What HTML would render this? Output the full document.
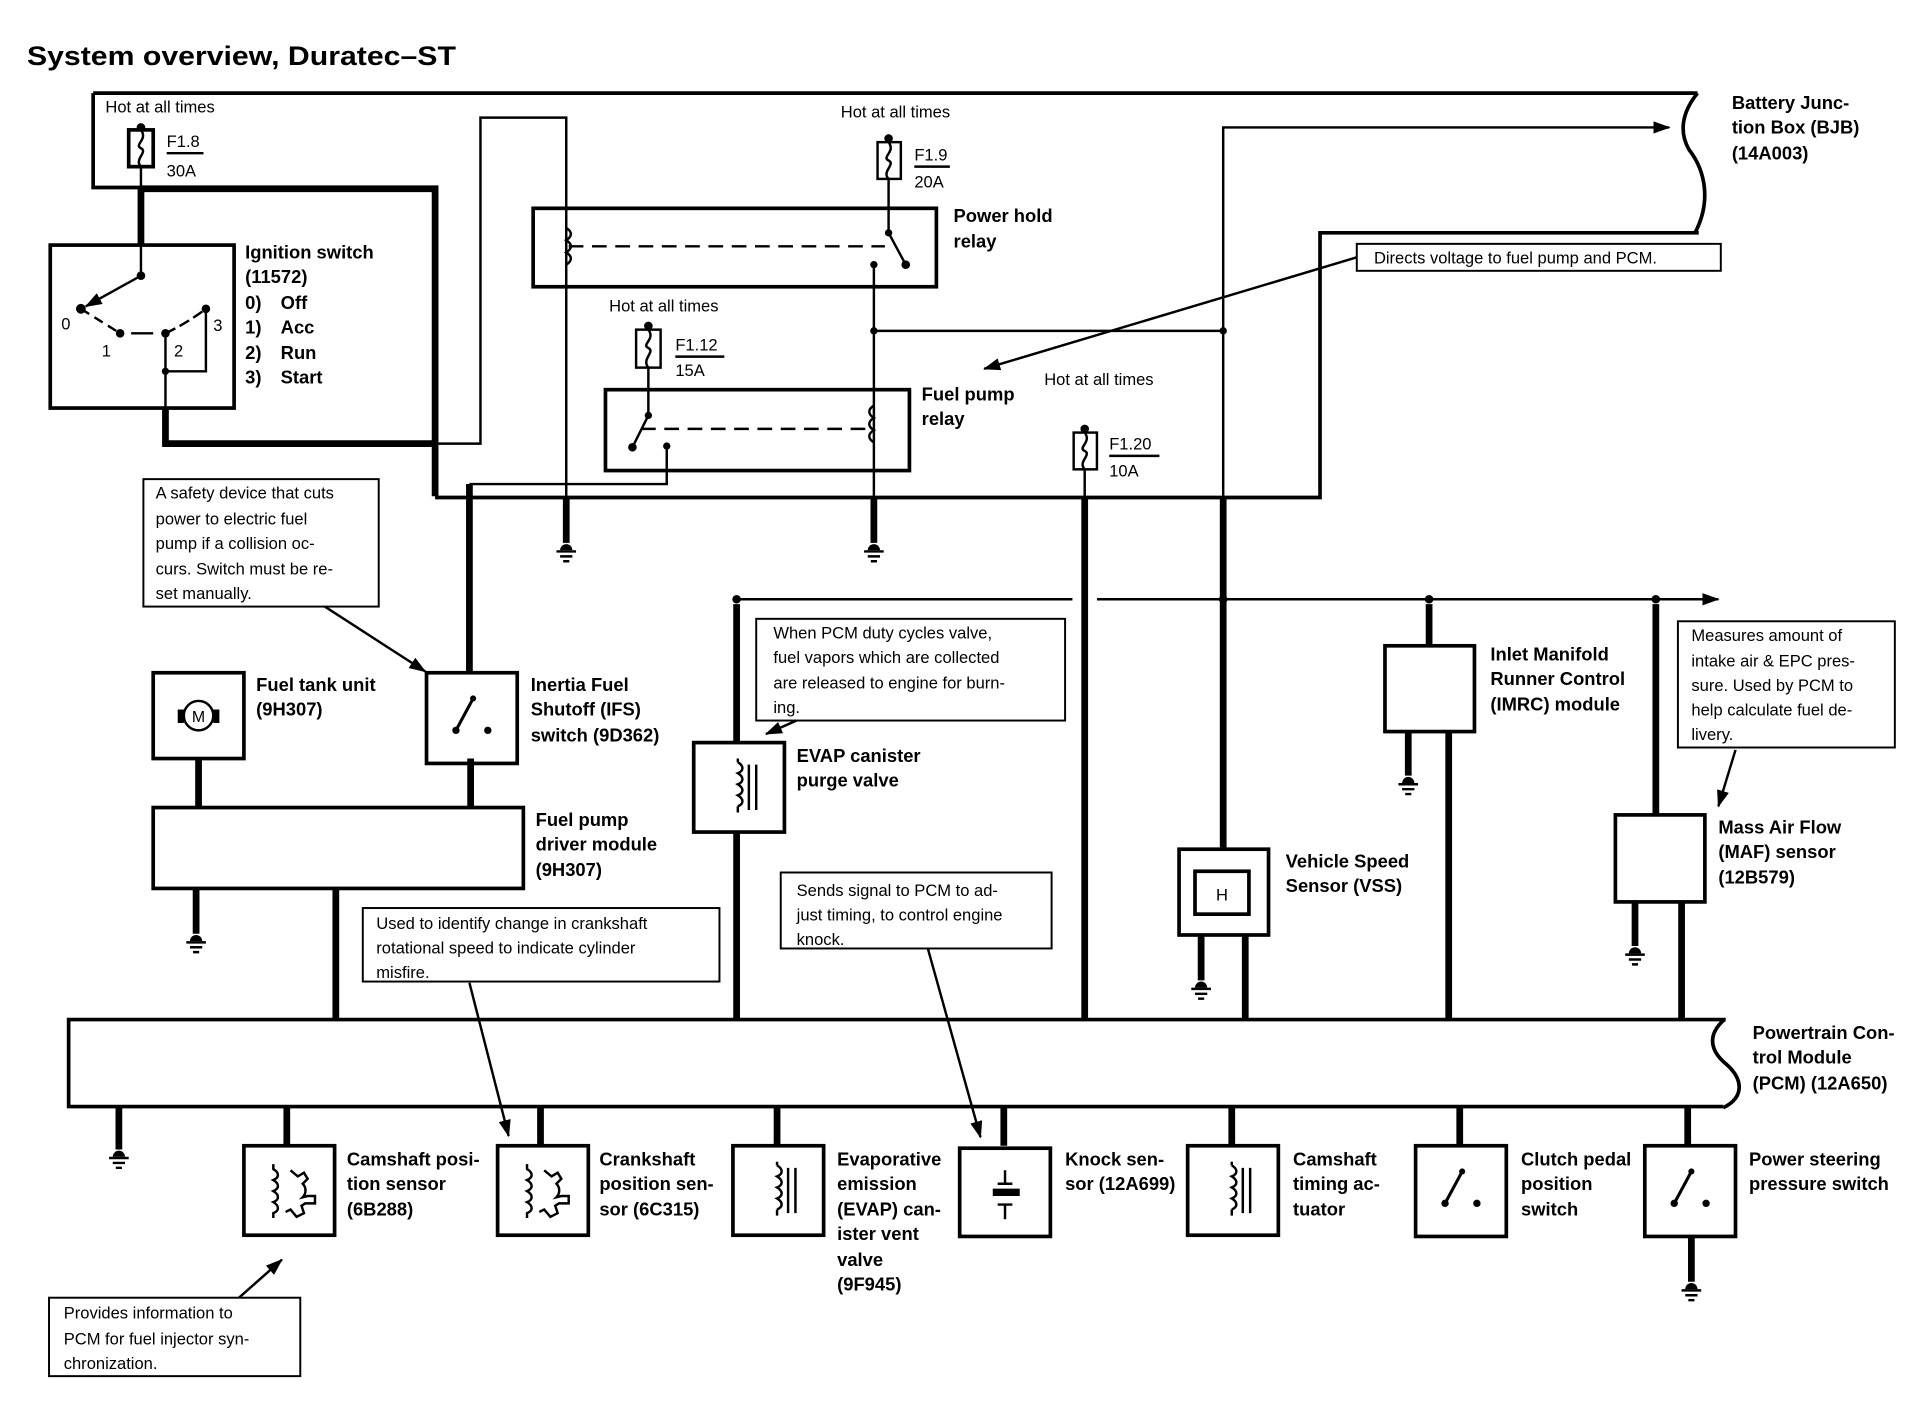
<!DOCTYPE html>
<html><head><meta charset="utf-8">
<style>
html,body{margin:0;padding:0;background:#fff;}
svg{display:block;}
text{font-family:"Liberation Sans",Arial,sans-serif;fill:#000;}
.b{font-weight:bold;font-size:15px;}
.r{font-size:13.5px;}
.t{stroke:#000;stroke-width:2;fill:none;}
.m{stroke:#000;stroke-width:3;fill:none;}
.k{stroke:#000;stroke-width:5.5;fill:none;}
.bx{stroke:#000;stroke-width:3;fill:#fff;}
.cb{stroke:#000;stroke-width:1.6;fill:#fff;}
</style></head>
<body>
<svg width="1912" height="1408" viewBox="0 0 1560 1149" preserveAspectRatio="none" xmlns="http://www.w3.org/2000/svg">
<defs>
<marker id="ar" markerWidth="14" markerHeight="10" refX="13" refY="5" orient="auto" markerUnits="userSpaceOnUse">
<path d="M0,0 L14,5 L0,10 Z" fill="#000"/></marker>
<g id="gnd"><path d="M-5,5 A5,5 0 0 1 5,5 Z" fill="#000"/><path d="M-8,6H8M-5,10H5M-2.5,14H2.5" stroke="#000" stroke-width="2"/></g>
<g id="sw"><rect x="0" y="0" width="74" height="74" class="bx"/><path d="M24,47 L38,21" stroke="#000" stroke-width="2.5"/><circle cx="24" cy="47" r="3"/><circle cx="38" cy="21" r="2.5"/><circle cx="50" cy="47" r="3"/></g>
<g id="evap"><rect x="0" y="0" width="74" height="73" class="bx"/><path d="M36,16 c5,3 5,7 0,9 c5,3 5,7 0,9 c5,3 5,7 0,9 c5,3 5,7 0,9 M36,16v-3 M36,52v5" class="t" stroke-width="1.5"/><path d="M45,18V55 M51,18V55" stroke="#000" stroke-width="2"/></g>
<g id="cam"><rect x="0" y="0" width="74" height="73" class="bx"/><path d="M24,15 v4 c5,3 5,7 0,9 c5,3 5,7 0,9 c5,3 5,7 0,9 c5,3 5,7 0,9 v4" class="t" stroke-width="1.6"/><path d="M38,20 l6,5 l5,-3 l3,5 l-4,4 c3,3 3,8 0,11 l4,-1 l6,0 v6 l-8,0 l-3,2 l2,6 l-6,3 l-5,-6 l-4,2" class="t" stroke-width="1.6"/></g>
</defs>

<text x="22" y="53" style="font-weight:bold;font-size:22px" textLength="350" lengthAdjust="spacingAndGlyphs">System overview, Duratec–ST</text>

<!-- BJB outline -->
<path d="M76,76 H1385" class="m"/>
<path d="M76,76 V153 H115" class="m"/>
<path d="M115,154 H355 V405" class="k" stroke-width="4.5"/>
<path d="M355,406 H1077 V190 H1386" class="m"/>
<path d="M1385,76 C1372,92 1370,108 1378,122 C1392,140 1396,165 1383,190" class="m"/>
<text x="1413" y="89" class="b">Battery Junc-</text>
<text x="1413" y="109" class="b">tion Box (BJB)</text>
<text x="1413" y="130" class="b">(14A003)</text>

<!-- F1.8 -->
<text x="86" y="92" class="r">Hot at all times</text>
<circle cx="115" cy="104" r="3.5"/>
<rect x="105" y="106" width="20" height="30" class="m" stroke-width="2"/>
<path d="M115,106 C121,114 109,118 115,121 C121,124 109,130 115,136" class="t" stroke-width="1.5"/>
<text x="136" y="120" class="r">F1.8</text><path d="M136,125H166" class="t" stroke-width="1"/>
<text x="136" y="144" class="r">30A</text>
<path d="M115,136V154" class="t"/>
<path d="M115,152V200" class="k"/>

<!-- Ignition switch -->
<rect x="41" y="200" width="150" height="133" class="m"/>
<path d="M115,200V225" class="t"/>
<circle cx="115" cy="225" r="3.5"/>
<path d="M115,225 L70,250" class="t" marker-end="url(#ar)"/>
<circle cx="66" cy="252" r="4"/>
<path d="M66,252 L98,272" class="t" stroke-dasharray="8,5" stroke-width="2.5"/>
<circle cx="98" cy="272" r="3.5"/>
<path d="M107,272H125" class="t"/>
<circle cx="135" cy="272" r="3.5"/>
<path d="M135,272 Q152,264 168,252" class="t" stroke-dasharray="9,4" stroke-width="2.5"/>
<circle cx="168" cy="252" r="3.5"/>
<path d="M168,252V303H135" class="t"/>
<circle cx="135" cy="303" r="3"/>
<path d="M135,272V333" class="t"/>
<text x="50" y="269" class="r">0</text><text x="83" y="291" class="r">1</text>
<text x="142" y="291" class="r">2</text><text x="174" y="270" class="r">3</text>
<text x="200" y="211" class="b">Ignition switch</text>
<text x="200" y="231" class="b">(11572)</text>
<text x="200" y="252" class="b">0)</text><text x="229" y="252" class="b">Off</text>
<text x="200" y="272" class="b">1)</text><text x="229" y="272" class="b">Acc</text>
<text x="200" y="293" class="b">2)</text><text x="229" y="293" class="b">Run</text>
<text x="200" y="313" class="b">3)</text><text x="229" y="313" class="b">Start</text>
<path d="M135,333V362H353" class="k"/>
<path d="M353,362H392V96H462V405" class="t"/>
<path d="M462,405V443" class="k"/>
<use href="#gnd" x="462" y="444"/>

<!-- Power hold relay -->
<rect x="435" y="170" width="329" height="64" class="m" stroke-width="3.5"/>
<path d="M462,186 c5,3 5,7 0,10 c5,3 5,7 0,10 c5,3 5,7 0,10" class="t" stroke-width="1.6"/>
<path d="M464,201H722" class="t" stroke-dasharray="12,7"/>
<text x="686" y="96" class="r">Hot at all times</text>
<circle cx="725" cy="113" r="3.5"/>
<rect x="716" y="116" width="19" height="30" class="t"/>
<path d="M725,116 C731,124 719,128 725,131 C731,134 719,140 725,146" class="t" stroke-width="1.5"/>
<text x="746" y="131" class="r">F1.9</text><path d="M746,136H775" class="t" stroke-width="1"/>
<text x="746" y="153" class="r">20A</text>
<path d="M725,146V190 L739,216" class="t"/>
<circle cx="725" cy="190" r="3"/><circle cx="739" cy="216" r="3.5"/>
<circle cx="713" cy="216" r="3"/>
<text x="778" y="181" class="b">Power hold</text>
<text x="778" y="202" class="b">relay</text>
<path d="M713,216V405" class="t"/>
<circle cx="713" cy="270" r="3"/>
<path d="M713,270H998" class="t"/>
<circle cx="998" cy="270" r="3"/>
<path d="M713,405V443" class="k"/>
<use href="#gnd" x="713" y="444"/>

<!-- Fuel pump relay -->
<text x="497" y="254" class="r">Hot at all times</text>
<circle cx="529" cy="266" r="3.5"/>
<rect x="519" y="269" width="20" height="31" class="t"/>
<path d="M529,269 C535,277 523,281 529,284 C535,287 523,293 529,300" class="t" stroke-width="1.5"/>
<text x="551" y="286" class="r">F1.12</text><path d="M551,291H591" class="t" stroke-width="1"/>
<text x="551" y="307" class="r">15A</text>
<rect x="494" y="318" width="248" height="66" class="m" stroke-width="3.5"/>
<path d="M529,300V339 L516,365" class="t"/>
<circle cx="529" cy="339" r="3"/><circle cx="516" cy="365" r="3.5"/>
<path d="M523,350H711" class="t" stroke-dasharray="12,7"/>
<path d="M713,331 c-5,3 -5,7 0,10 c-5,3 -5,7 0,10 c-5,3 -5,7 0,10" class="t" stroke-width="1.6"/>
<circle cx="544" cy="364" r="3"/>
<path d="M544,364V395H383" class="t"/>
<text x="752" y="327" class="b">Fuel pump</text>
<text x="752" y="347" class="b">relay</text>

<!-- Directs voltage callout -->
<rect x="1107" y="199" width="297" height="22" class="cb"/>
<text x="1121" y="215" class="r">Directs voltage to fuel pump and PCM.</text>
<path d="M1107,210 L803,301" class="t" stroke-width="1.5" marker-end="url(#ar)"/>

<!-- x=998 line / arrow -->
<path d="M998,270V104H1362" class="t" marker-end="url(#ar)"/>
<path d="M998,270V405" class="t"/>
<path d="M998,405V692" class="k"/>

<!-- F1.20 -->
<text x="852" y="314" class="r">Hot at all times</text>
<circle cx="885" cy="350" r="3.5"/>
<rect x="876" y="353" width="19" height="30" class="t"/>
<path d="M885,353 C891,361 879,365 885,368 C891,371 879,377 885,383" class="t" stroke-width="1.5"/>
<text x="905" y="367" class="r">F1.20</text><path d="M905,372H946" class="t" stroke-width="1"/>
<text x="905" y="389" class="r">10A</text>
<path d="M885,383V405" class="t"/>
<path d="M885,405V831" class="k"/>

<!-- horizontal at 489 -->
<path d="M601,489H875 M895,489H1402" class="t" marker-end="url(#ar)"/>
<circle cx="601" cy="489" r="3.5"/><circle cx="998" cy="489" r="3.5"/>
<circle cx="1166" cy="489" r="3.5"/><circle cx="1351" cy="489" r="3.5"/>
<path d="M601,493V831" class="k"/>
<path d="M1166,493V527" class="k"/>
<path d="M1351,493V664" class="k"/>

<!-- Safety callout -->
<rect x="117" y="391" width="192" height="104" class="cb"/>
<text x="127" y="407" class="r">A safety device that cuts</text>
<text x="127" y="428" class="r">power to electric fuel</text>
<text x="127" y="448" class="r">pump if a collision oc-</text>
<text x="127" y="469" class="r">curs. Switch must be re-</text>
<text x="127" y="489" class="r">set manually.</text>
<path d="M265,495 L347,548" class="t" stroke-width="1.5" marker-end="url(#ar)"/>

<!-- Inertia and fuel tank -->
<path d="M383,395V549" class="k"/>
<rect x="125" y="549" width="74" height="70" class="bx"/>
<circle cx="162" cy="584" r="12" class="t" stroke-width="2.5"/>
<rect x="145" y="579" width="5" height="11"/><rect x="174" y="579" width="5" height="11"/>
<text x="162" y="589" text-anchor="middle" style="font-size:13px">M</text>
<text x="209" y="564" class="b">Fuel tank unit</text>
<text x="209" y="584" class="b">(9H307)</text>
<use href="#sw" x="348" y="549"/>
<text x="433" y="564" class="b">Inertia Fuel</text>
<text x="433" y="584" class="b">Shutoff (IFS)</text>
<text x="433" y="605" class="b">switch (9D362)</text>
<path d="M162,619V659 M384,619V659" class="k"/>
<rect x="125" y="659" width="302" height="66" class="bx"/>
<text x="437" y="674" class="b">Fuel pump</text>
<text x="437" y="694" class="b">driver module</text>
<text x="437" y="715" class="b">(9H307)</text>
<path d="M160,725V762" class="k"/><use href="#gnd" x="160" y="763"/>
<path d="M274,725V831" class="k"/>

<!-- Crank callout -->
<rect x="296" y="741" width="291" height="60" class="cb"/>
<text x="307" y="758" class="r">Used to identify change in crankshaft</text>
<text x="307" y="778" class="r">rotational speed to indicate cylinder</text>
<text x="307" y="798" class="r">misfire.</text>
<path d="M383,802 L415,927" class="t" stroke-width="1.5" marker-end="url(#ar)"/>

<!-- EVAP callout & valve -->
<rect x="617" y="505" width="252" height="83" class="cb"/>
<text x="631" y="521" class="r">When PCM duty cycles valve,</text>
<text x="631" y="541" class="r">fuel vapors which are collected</text>
<text x="631" y="562" class="r">are released to engine for burn-</text>
<text x="631" y="582" class="r">ing.</text>
<path d="M650,588 L625,599" class="t" stroke-width="1.5" marker-end="url(#ar)"/>
<use href="#evap" x="566" y="606"/>
<text x="650" y="622" class="b">EVAP canister</text>
<text x="650" y="642" class="b">purge valve</text>

<!-- Knock callout -->
<rect x="637" y="712" width="221" height="62" class="cb"/>
<text x="650" y="731" class="r">Sends signal to PCM to ad-</text>
<text x="650" y="751" class="r">just timing, to control engine</text>
<text x="650" y="771" class="r">knock.</text>
<path d="M757,774 L800,928" class="t" stroke-width="1.5" marker-end="url(#ar)"/>

<!-- IMRC -->
<rect x="1130" y="527" width="73" height="70" class="bx"/>
<text x="1216" y="539" class="b">Inlet Manifold</text>
<text x="1216" y="559" class="b">Runner Control</text>
<text x="1216" y="580" class="b">(IMRC) module</text>
<path d="M1149,597V633" class="k"/><use href="#gnd" x="1149" y="634"/>
<path d="M1182,597V831" class="k"/>

<!-- MAF callout & sensor -->
<rect x="1369" y="507" width="177" height="103" class="cb"/>
<text x="1380" y="523" class="r">Measures amount of</text>
<text x="1380" y="544" class="r">intake air &amp; EPC pres-</text>
<text x="1380" y="564" class="r">sure. Used by PCM to</text>
<text x="1380" y="584" class="r">help calculate fuel de-</text>
<text x="1380" y="604" class="r">livery.</text>
<path d="M1416,612 L1402,658" class="t" stroke-width="1.5" marker-end="url(#ar)"/>
<rect x="1318" y="665" width="73" height="71" class="bx"/>
<text x="1402" y="680" class="b">Mass Air Flow</text>
<text x="1402" y="700" class="b">(MAF) sensor</text>
<text x="1402" y="721" class="b">(12B579)</text>
<path d="M1334,736V772" class="k"/><use href="#gnd" x="1334" y="773"/>
<path d="M1372,736V831" class="k"/>

<!-- VSS -->
<rect x="962" y="693" width="73" height="70" class="bx"/>
<rect x="975" y="711" width="44" height="35" class="m"/>
<text x="997" y="735" text-anchor="middle" class="r">H</text>
<text x="1049" y="708" class="b">Vehicle Speed</text>
<text x="1049" y="728" class="b">Sensor (VSS)</text>
<path d="M980,763V800" class="k"/><use href="#gnd" x="980" y="801"/>
<path d="M1016,763V831" class="k"/>

<!-- PCM -->
<path d="M1408,832 H56 V903 H1406" class="m"/>
<path d="M1407,832 C1392,845 1396,858 1408,868 C1422,880 1424,895 1406,904" class="m"/>
<text x="1430" y="848" class="b">Powertrain Con-</text>
<text x="1430" y="868" class="b">trol Module</text>
<text x="1430" y="889" class="b">(PCM) (12A650)</text>
<path d="M97,903V938" class="k"/><use href="#gnd" x="97" y="939"/>
<path d="M234,903V935 M441,903V935 M634,903V935 M819,903V935 M1005,903V935 M1191,903V935 M1377,903V935" class="k"/>

<!-- bottom components -->
<use href="#cam" x="199" y="935"/>
<text x="283" y="951" class="b">Camshaft posi-</text>
<text x="283" y="971" class="b">tion sensor</text>
<text x="283" y="992" class="b">(6B288)</text>
<use href="#cam" x="406" y="935"/>
<text x="489" y="951" class="b">Crankshaft</text>
<text x="489" y="971" class="b">position sen-</text>
<text x="489" y="992" class="b">sor (6C315)</text>
<use href="#evap" x="598" y="935"/>
<text x="683" y="951" class="b">Evaporative</text>
<text x="683" y="971" class="b">emission</text>
<text x="683" y="992" class="b">(EVAP) can-</text>
<text x="683" y="1012" class="b">ister vent</text>
<text x="683" y="1033" class="b">valve</text>
<text x="683" y="1053" class="b">(9F945)</text>
<rect x="783" y="937" width="74" height="72" class="bx"/>
<path d="M820,955V966 M814,966H826 M814,983H826 M820,983V995" class="t"/>
<rect x="810" y="970" width="22" height="6"/>
<text x="869" y="951" class="b">Knock sen-</text>
<text x="869" y="971" class="b">sor (12A699)</text>
<use href="#evap" x="969" y="935"/>
<text x="1055" y="951" class="b">Camshaft</text>
<text x="1055" y="971" class="b">timing ac-</text>
<text x="1055" y="992" class="b">tuator</text>
<use href="#sw" x="1155" y="935"/>
<text x="1241" y="951" class="b">Clutch pedal</text>
<text x="1241" y="971" class="b">position</text>
<text x="1241" y="992" class="b">switch</text>
<use href="#sw" x="1342" y="935"/>
<text x="1427" y="951" class="b">Power steering</text>
<text x="1427" y="971" class="b">pressure switch</text>
<path d="M1380,1009V1046" class="k"/><use href="#gnd" x="1380" y="1047"/>

<!-- Cam callout -->
<rect x="40" y="1059" width="205" height="64" class="cb"/>
<text x="52" y="1076" class="r">Provides information to</text>
<text x="52" y="1097" class="r">PCM for fuel injector syn-</text>
<text x="52" y="1117" class="r">chronization.</text>
<path d="M195,1059 L230,1028" class="t" stroke-width="1.5" marker-end="url(#ar)"/>
</svg>
</body></html>
